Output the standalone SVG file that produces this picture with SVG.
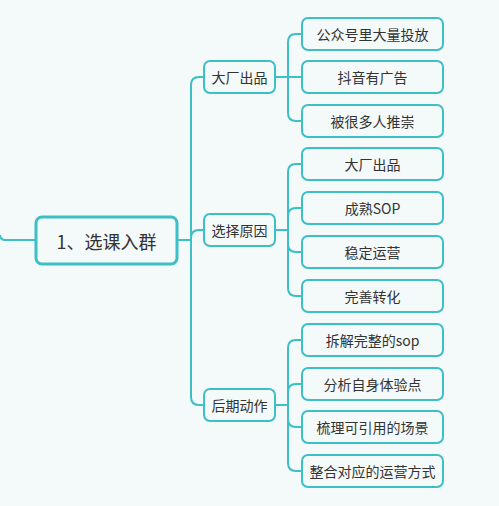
<svg xmlns="http://www.w3.org/2000/svg" width="499" height="506" viewBox="0 0 499 506">
<style>
.bg{fill:#f4f9f9}
.n rect{fill:#f4f9f9;stroke:#3dbfc6;stroke-width:2}
.root rect{stroke-width:3}
.n text{font-family:"Noto Sans CJK SC","Microsoft YaHei",sans-serif;font-size:14px;fill:#333;text-anchor:middle;dominant-baseline:central}
.root text{font-size:18px}
#conn path{fill:none;stroke:#3dbfc6;stroke-width:2}
</style>
<rect class="bg" x="0" y="0" width="499" height="506"/>
<g id="conn">
<path d="M0,235 Q0,240 6,240 L36,240"/>
<path d="M177,240 L191,240"/>
<path d="M204,77 L199,77 Q191,77 191,85 L191,397 Q191,405 199,405 L204,405"/>
<path d="M191,238 Q191,230 199,230 L204,230"/>
<path d="M275,77 L302,77"/>
<path d="M302,34 L296,34 Q288,34 288,42 L288,113 Q288,121 296,121 L302,121"/>
<path d="M275,230 L288,230"/>
<path d="M302,164 L296,164 Q288,164 288,172 L288,288 Q288,296 296,296 L302,296"/>
<path d="M288,216 Q288,208 296,208 L302,208"/>
<path d="M288,244 Q288,252 296,252 L302,252"/>
<path d="M275,405 L288,405"/>
<path d="M302,340 L296,340 Q288,340 288,348 L288,463 Q288,471 296,471 L302,471"/>
<path d="M288,392 Q288,384 296,384 L302,384"/>
<path d="M288,419 Q288,427 296,427 L302,427"/>
</g>
<g id="root" class="n root"><rect x="36" y="217" width="141" height="47" rx="6"/><text x="106.5" y="240.5">1、选课入群</text></g>
<g id="l1a" class="n"><rect x="204" y="61" width="71" height="32" rx="6"/><text x="239.5" y="77">大厂出品</text></g>
<g id="l1b" class="n"><rect x="204" y="214" width="71" height="32" rx="6"/><text x="239.5" y="230">选择原因</text></g>
<g id="l1c" class="n"><rect x="204" y="389" width="71" height="32" rx="6"/><text x="239.5" y="405">后期动作</text></g>
<g id="c1" class="n"><rect x="302" y="18" width="141" height="32" rx="6"/><text x="372.5" y="34">公众号里大量投放</text></g>
<g id="c2" class="n"><rect x="302" y="61" width="141" height="32" rx="6"/><text x="372.5" y="77">抖音有广告</text></g>
<g id="c3" class="n"><rect x="302" y="105" width="141" height="32" rx="6"/><text x="372.5" y="121">被很多人推崇</text></g>
<g id="c4" class="n"><rect x="302" y="148" width="141" height="32" rx="6"/><text x="372.5" y="164">大厂出品</text></g>
<g id="c5" class="n"><rect x="302" y="192" width="141" height="32" rx="6"/><text x="372.5" y="208">成熟SOP</text></g>
<g id="c6" class="n"><rect x="302" y="236" width="141" height="32" rx="6"/><text x="372.5" y="252">稳定运营</text></g>
<g id="c7" class="n"><rect x="302" y="280" width="141" height="32" rx="6"/><text x="372.5" y="296">完善转化</text></g>
<g id="c8" class="n"><rect x="302" y="324" width="141" height="32" rx="6"/><text x="372.5" y="340">拆解完整的sop</text></g>
<g id="c9" class="n"><rect x="302" y="368" width="141" height="32" rx="6"/><text x="372.5" y="384">分析自身体验点</text></g>
<g id="c10" class="n"><rect x="302" y="411" width="141" height="32" rx="6"/><text x="372.5" y="427">梳理可引用的场景</text></g>
<g id="c11" class="n"><rect x="302" y="455" width="141" height="32" rx="6"/><text x="372.5" y="471">整合对应的运营方式</text></g>
</svg>
